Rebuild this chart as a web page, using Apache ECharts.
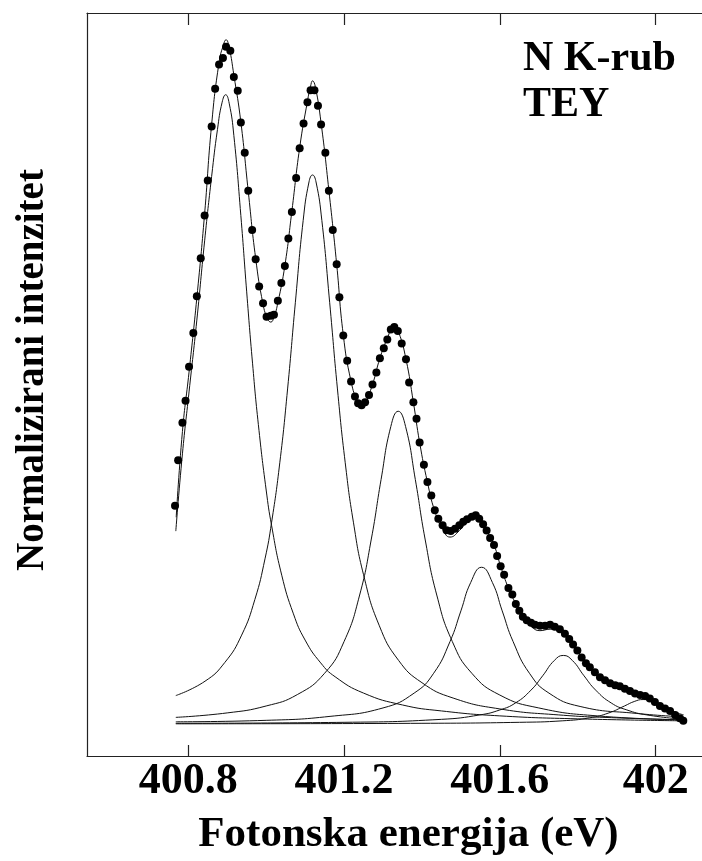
<!DOCTYPE html>
<html>
<head>
<meta charset="utf-8">
<title>N K-rub TEY</title>
<script src="https://cdn.jsdelivr.net/npm/echarts@6/dist/echarts.min.js"></script>
<style>
  html, body { margin: 0; padding: 0; background: #fff; }
  #chart { width: 702px; height: 861px; }
</style>
</head>
<body>
<div id="chart"></div>
<script>
// tick positions on the energy axis (eV)
var xTicks = [400.8, 401.2, 401.6, 402];

// measured points [energy eV, normalised intensity]
var expData = [
  [400.766, 0.505], [400.774, 0.597], [400.785, 0.673], [400.793, 0.717], [400.802, 0.786],
  [400.813, 0.854], [400.822, 0.928], [400.832, 1.005], [400.842, 1.091], [400.850, 1.162],
  [400.860, 1.271], [400.869, 1.347], [400.879, 1.396], [400.889, 1.409], [400.897, 1.432],
  [400.908, 1.424], [400.917, 1.371], [400.927, 1.343], [400.935, 1.279], [400.945, 1.218],
  [400.954, 1.141], [400.964, 1.062], [400.973, 1.003], [400.982, 0.948], [400.992, 0.914],
  [401.001, 0.887], [401.012, 0.889], [401.020, 0.891], [401.030, 0.919], [401.039, 0.955],
  [401.048, 0.989], [401.057, 1.045], [401.066, 1.098], [401.077, 1.167], [401.086, 1.227],
  [401.096, 1.277], [401.106, 1.320], [401.114, 1.344], [401.124, 1.344], [401.133, 1.313],
  [401.141, 1.275], [401.152, 1.218], [401.161, 1.141], [401.171, 1.062], [401.181, 0.993],
  [401.188, 0.926], [401.198, 0.849], [401.208, 0.798], [401.218, 0.756], [401.228, 0.726],
  [401.236, 0.712], [401.245, 0.708], [401.254, 0.714], [401.264, 0.729], [401.273, 0.750],
  [401.283, 0.774], [401.292, 0.803], [401.302, 0.823], [401.311, 0.841], [401.320, 0.861],
  [401.329, 0.866], [401.338, 0.858], [401.348, 0.833], [401.359, 0.801], [401.367, 0.754],
  [401.378, 0.714], [401.386, 0.681], [401.394, 0.633], [401.405, 0.588], [401.414, 0.553],
  [401.424, 0.526], [401.433, 0.496], [401.442, 0.479], [401.453, 0.466], [401.463, 0.456],
  [401.474, 0.454], [401.485, 0.459], [401.496, 0.466], [401.506, 0.473], [401.516, 0.478],
  [401.528, 0.483], [401.538, 0.486], [401.547, 0.479], [401.557, 0.468], [401.566, 0.455],
  [401.575, 0.440], [401.585, 0.426], [401.593, 0.404], [401.602, 0.383], [401.611, 0.366],
  [401.622, 0.339], [401.632, 0.326], [401.641, 0.307], [401.650, 0.293], [401.659, 0.281],
  [401.669, 0.274], [401.680, 0.269], [401.690, 0.265], [401.703, 0.263], [401.716, 0.263],
  [401.729, 0.265], [401.741, 0.261], [401.754, 0.256], [401.767, 0.247], [401.778, 0.236],
  [401.788, 0.225], [401.799, 0.213], [401.810, 0.199], [401.821, 0.187], [401.831, 0.179],
  [401.844, 0.169], [401.857, 0.159], [401.870, 0.153], [401.883, 0.147], [401.896, 0.143],
  [401.908, 0.141], [401.921, 0.136], [401.934, 0.131], [401.947, 0.126], [401.960, 0.123],
  [401.973, 0.121], [401.985, 0.116], [401.998, 0.109], [402.011, 0.101], [402.024, 0.096],
  [402.037, 0.091], [402.050, 0.083], [402.062, 0.076], [402.071, 0.071]
];

// total fit
var fitData = [
  [400.769, 0.482], [400.785, 0.655], [400.802, 0.775], [400.822, 0.925], [400.842, 1.095],
  [400.860, 1.275], [400.879, 1.400], [400.890, 1.435], [400.897, 1.446], [400.905, 1.430],
  [400.917, 1.375], [400.935, 1.280], [400.954, 1.140], [400.973, 1.005], [400.992, 0.912],
  [401.004, 0.882], [401.012, 0.876], [401.020, 0.886], [401.030, 0.915], [401.048, 0.990],
  [401.066, 1.100], [401.086, 1.228], [401.106, 1.322], [401.114, 1.352], [401.119, 1.363],
  [401.126, 1.352], [401.141, 1.278], [401.161, 1.142], [401.181, 0.993], [401.198, 0.850],
  [401.218, 0.756], [401.236, 0.712], [401.245, 0.704], [401.254, 0.712], [401.273, 0.750],
  [401.292, 0.803], [401.311, 0.843], [401.328, 0.868], [401.340, 0.856], [401.359, 0.801],
  [401.378, 0.714], [401.394, 0.633], [401.414, 0.553], [401.433, 0.494], [401.453, 0.458],
  [401.472, 0.442], [401.496, 0.455], [401.516, 0.474], [401.530, 0.484], [401.541, 0.490],
  [401.550, 0.481], [401.566, 0.455], [401.585, 0.426], [401.602, 0.383], [401.622, 0.339],
  [401.641, 0.307], [401.659, 0.280], [401.680, 0.262], [401.703, 0.253], [401.729, 0.256],
  [401.754, 0.254], [401.778, 0.236], [401.799, 0.213], [401.821, 0.187], [401.844, 0.169],
  [401.870, 0.153], [401.896, 0.143], [401.921, 0.136], [401.947, 0.126], [401.973, 0.121],
  [401.998, 0.109], [402.024, 0.096], [402.050, 0.083], [402.071, 0.071]
];

// fitted components
var peak1 = [
  [400.768, 0.454], [400.785, 0.610], [400.802, 0.735], [400.822, 0.880], [400.842, 1.040],
  [400.860, 1.170], [400.875, 1.265], [400.887, 1.320], [400.896, 1.335], [400.905, 1.318],
  [400.917, 1.253], [400.935, 1.091], [400.950, 0.937], [400.965, 0.793], [400.980, 0.669],
  [401.000, 0.537], [401.014, 0.465], [401.040, 0.365], [401.070, 0.287], [401.100, 0.234],
  [401.140, 0.188], [401.177, 0.160], [401.250, 0.127], [401.350, 0.103], [401.450, 0.091],
  [401.600, 0.081], [401.800, 0.075], [402.072, 0.071]
];
var peak2 = [
  [400.768, 0.122], [400.843, 0.151], [400.894, 0.189], [400.937, 0.244], [400.971, 0.316],
  [400.997, 0.398], [401.014, 0.472], [401.035, 0.592], [401.055, 0.741], [401.075, 0.916],
  [401.095, 1.081], [401.110, 1.159], [401.119, 1.173], [401.128, 1.159], [401.143, 1.081],
  [401.163, 0.916], [401.183, 0.741], [401.203, 0.592], [401.224, 0.472], [401.250, 0.366],
  [401.290, 0.264], [401.340, 0.193], [401.400, 0.148], [401.480, 0.117], [401.600, 0.095],
  [401.750, 0.083], [401.900, 0.077], [402.072, 0.073]
];
var peak3 = [
  [400.768, 0.078], [400.900, 0.087], [401.000, 0.101], [401.080, 0.124], [401.150, 0.167],
  [401.200, 0.231], [401.240, 0.325], [401.270, 0.438], [401.295, 0.558], [401.320, 0.665],
  [401.339, 0.696], [401.358, 0.665], [401.383, 0.558], [401.408, 0.438], [401.438, 0.325],
  [401.478, 0.231], [401.528, 0.167], [401.600, 0.123], [401.700, 0.097], [401.850, 0.081],
  [402.072, 0.073]
];
var peak4 = [
  [400.768, 0.069], [401.000, 0.072], [401.164, 0.080], [401.300, 0.097], [401.380, 0.127],
  [401.430, 0.167], [401.472, 0.231], [401.500, 0.293], [401.525, 0.350], [401.553, 0.381],
  [401.581, 0.350], [401.606, 0.293], [401.634, 0.231], [401.676, 0.167], [401.726, 0.127],
  [401.806, 0.100], [401.950, 0.086], [402.072, 0.079]
];
var peak5 = [
  [400.768, 0.066], [401.200, 0.068], [401.450, 0.074], [401.549, 0.083], [401.600, 0.093],
  [401.640, 0.107], [401.680, 0.133], [401.710, 0.162], [401.740, 0.193], [401.763, 0.203],
  [401.786, 0.193], [401.816, 0.162], [401.846, 0.133], [401.886, 0.107], [401.926, 0.093],
  [401.977, 0.083], [402.072, 0.074]
];
var peak6 = [
  [400.768, 0.065], [401.400, 0.066], [401.650, 0.068], [401.760, 0.071], [401.830, 0.077],
  [401.880, 0.087], [401.920, 0.101], [401.945, 0.110], [401.968, 0.114], [401.991, 0.110],
  [402.016, 0.101], [402.056, 0.087], [402.072, 0.083]
];

var components = [peak1, peak2, peak3, peak4, peak5, peak6];

var myChart = echarts.init(document.getElementById('chart'));

var font = 'Liberation Serif, Times New Roman, serif';

var series = components.map(function (d, i) {
  return {
    name: 'peak' + (i + 1),
    type: 'line',
    data: d,
    smooth: true,
    showSymbol: false,
    lineStyle: { color: '#111', width: 1 },
    silent: true
  };
});
series.push({
  name: 'fit',
  type: 'line',
  data: fitData,
  smooth: true,
  showSymbol: false,
  lineStyle: { color: '#111', width: 1 },
  silent: true
});
series.push({
  name: 'exp',
  type: 'scatter',
  data: expData,
  symbol: 'circle',
  symbolSize: 8,
  itemStyle: { color: '#000', opacity: 1 },
  z: 5
});

var option = {
  animation: false,
  backgroundColor: '#fff',
  grid: { left: 87, right: 0, top: 13, bottom: 98, containLabel: false },
  xAxis: [
    {
      type: 'value',
      position: 'bottom',
      min: 400.54,
      max: 402.119,
      name: 'Fotonska energija (eV)',
      nameLocation: 'middle',
      nameGap: 57,
      nameTextStyle: {
        fontFamily: font, fontWeight: 'bold', fontSize: 43, color: '#000',
        padding: [0, 0, 0, 28]
      },
      axisLine: { show: true, lineStyle: { color: '#222', width: 1.2 } },
      axisTick: { show: true, inside: true, length: 11, customValues: xTicks,
        lineStyle: { color: '#222', width: 1.2 } },
      axisLabel: {
        show: true, customValues: xTicks, margin: 4,
        fontFamily: font, fontWeight: 'bold', fontSize: 44, color: '#000'
      },
      splitLine: { show: false }
    },
    {
      type: 'value',
      position: 'top',
      min: 400.54,
      max: 402.119,
      axisLine: { show: true, lineStyle: { color: '#222', width: 1.2 } },
      axisTick: { show: true, inside: true, length: 12, customValues: xTicks,
        lineStyle: { color: '#222', width: 1.2 } },
      axisLabel: { show: false },
      splitLine: { show: false }
    }
  ],
  yAxis: {
    type: 'value',
    min: 0,
    max: 1.5,
    name: 'Normalizirani intenzitet',
    nameLocation: 'middle',
    nameGap: 35,
    nameTextStyle: {
      fontFamily: font, fontWeight: 'bold', fontSize: 39, color: '#000',
      padding: [0, 0, 0, 29]
    },
    axisLine: { show: true, lineStyle: { color: '#222', width: 1.2 } },
    axisTick: { show: false },
    axisLabel: { show: false },
    splitLine: { show: false }
  },
  graphic: [
    {
      type: 'text',
      left: 523,
      top: 36,
      style: {
        text: 'N K-rub\nTEY',
        font: 'bold 42px ' + font,
        fill: '#000',
        lineHeight: 46
      }
    }
  ],
  series: series
};

myChart.setOption(option);
</script>
</body>
</html>
